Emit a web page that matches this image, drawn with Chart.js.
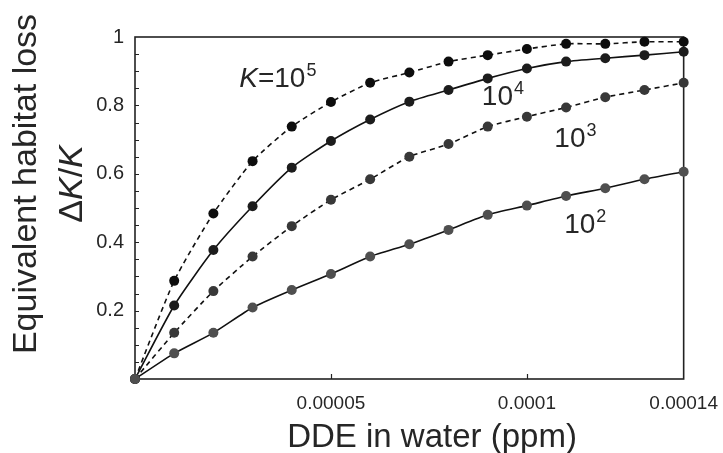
<!DOCTYPE html>
<html>
<head>
<meta charset="utf-8">
<script src="https://cdn.jsdelivr.net/npm/chart.js@4/dist/chart.umd.min.js"></script>
<style>
  html, body { margin: 0; padding: 0; background: #fff; }
  #wrap { width: 723px; height: 453px; }
</style>
</head>
<body>
<div id="wrap"><canvas id="habitatChart" width="723" height="453"></canvas></div>
<script>
// DDE concentration in water (ppm)
const ddeLevels = [0, 0.00001, 0.00002, 0.00003, 0.00004, 0.00005, 0.00006, 0.00007,
                   0.00008, 0.00009, 0.0001, 0.00011, 0.00012, 0.00013, 0.00014];

// equivalent habitat loss dK/K for each carrying capacity
const lossK1e5 = [0, 0.287, 0.484, 0.637, 0.738, 0.810, 0.866, 0.896, 0.928, 0.947, 0.965, 0.980, 0.980, 0.986, 0.986];
const lossK1e4 = [0, 0.215, 0.377, 0.505, 0.618, 0.696, 0.759, 0.811, 0.845, 0.879, 0.908, 0.928, 0.938, 0.947, 0.957];
const lossK1e3 = [0, 0.135, 0.257, 0.358, 0.447, 0.524, 0.584, 0.650, 0.687, 0.738, 0.767, 0.794, 0.824, 0.845, 0.866];
const lossK1e2 = [0, 0.075, 0.135, 0.209, 0.260, 0.307, 0.358, 0.394, 0.436, 0.480, 0.507, 0.535, 0.558, 0.584, 0.606];

const xTickValues = [0.00005, 0.0001, 0.00014];
const xTickLabels = ['0.00005', '0.0001', '0.00014'];
const yTickValues = [0.2, 0.4, 0.6, 0.8, 1];
const yTickLabels = ['0.2', '0.4', '0.6', '0.8', '1'];

// curve labels: italic prefix, base text, superscript, anchor in data units
const curveLabels = [
    { italic: 'K', base: '=10', sup: '5', x: 0.0000266, y: 0.854 },
    { italic: '',  base: '10',  sup: '4', x: 0.0000885, y: 0.801 },
    { italic: '',  base: '10',  sup: '3', x: 0.0001070, y: 0.678 },
    { italic: '',  base: '10',  sup: '2', x: 0.0001095, y: 0.427 },
];

const FONT = '"Liberation Sans", Arial, sans-serif';
const TEXT_COLOR = '#262626';

function series(values) {
    return values.map((v, i) => ({ x: ddeLevels[i], y: v }));
}

function makeDataset(label, values, pointColor, dashed) {
    return {
        label: label,
        data: series(values),
        borderColor: '#111',
        borderWidth: 1.6,
        borderDash: dashed ? [5, 4] : [],
        pointRadius: 5,
        pointHoverRadius: 5,
        pointBackgroundColor: pointColor,
        pointBorderColor: pointColor,
        pointBorderWidth: 0,
        tension: 0.2,
        clip: false,
    };
}

// frame, inward ticks, titles and curve labels
const decorPlugin = {
    id: 'decor',
    beforeDatasetsDraw(chart) {
        const { ctx, chartArea: a, scales } = chart;
        ctx.save();
        ctx.strokeStyle = '#222';
        ctx.lineWidth = 1.6;
        ctx.strokeRect(a.left, a.top, a.right - a.left, a.bottom - a.top);

        // minor ticks on the y axis every 0.05
        ctx.lineWidth = 1.2;
        ctx.beginPath();
        for (let k = 1; k < 20; k++) {
            const py = Math.round(scales.y.getPixelForValue(k * 0.05)) + 0.5;
            ctx.moveTo(a.left, py);
            ctx.lineTo(a.left + 4, py);
        }
        // x ticks pointing up
        xTickValues.slice(0, 2).forEach(v => {
            const px = Math.round(scales.x.getPixelForValue(v)) + 0.5;
            ctx.moveTo(px, a.bottom);
            ctx.lineTo(px, a.bottom - 5);
        });
        ctx.stroke();
        ctx.restore();
    },
    afterDraw(chart) {
        const { ctx, scales } = chart;
        ctx.save();
        ctx.fillStyle = TEXT_COLOR;

        // y title, two lines
        ctx.save();
        ctx.translate(27, 184);
        ctx.rotate(-Math.PI / 2);
        ctx.textAlign = 'center';
        ctx.textBaseline = 'middle';
        ctx.font = '34px ' + FONT;
        ctx.fillText('Equivalent habitat loss', 0, 0);
        ctx.restore();

        ctx.save();
        ctx.translate(73, 184);
        ctx.rotate(-Math.PI / 2);
        ctx.textBaseline = 'middle';
        const parts = [['Δ', ''], ['K', 'italic '], ['/', ''], ['K', 'italic ']];
        let total = 0;
        parts.forEach(p => { ctx.font = p[1] + '34px ' + FONT; total += ctx.measureText(p[0]).width; });
        let cx = -total / 2;
        parts.forEach(p => {
            ctx.font = p[1] + '34px ' + FONT;
            ctx.fillText(p[0], cx, 0);
            cx += ctx.measureText(p[0]).width;
        });
        ctx.restore();

        // x title
        ctx.font = '33px ' + FONT;
        ctx.textAlign = 'center';
        ctx.textBaseline = 'alphabetic';
        ctx.fillText('DDE in water (ppm)', 432, 447);

        // curve labels with superscripts
        ctx.textAlign = 'left';
        curveLabels.forEach(l => {
            let px = scales.x.getPixelForValue(l.x);
            const py = scales.y.getPixelForValue(l.y);
            if (l.italic) {
                ctx.font = 'italic 28px ' + FONT;
                ctx.fillText(l.italic, px, py);
                px += ctx.measureText(l.italic).width;
            }
            ctx.font = '28px ' + FONT;
            ctx.fillText(l.base, px, py);
            px += ctx.measureText(l.base).width + 1;
            ctx.font = '18px ' + FONT;
            ctx.fillText(l.sup, px, py - 11);
        });
        ctx.restore();
    }
};

const ctx = document.getElementById('habitatChart').getContext('2d');
const habitatChart = new Chart(ctx, {
    type: 'line',
    data: {
        datasets: [
            makeDataset('K=10^2', lossK1e2, '#4f4f4f', false),
            makeDataset('K=10^3', lossK1e3, '#383838', true),
            makeDataset('K=10^4', lossK1e4, '#1c1c1c', false),
            makeDataset('K=10^5', lossK1e5, '#0d0d0d', true),
        ],
    },
    options: {
        responsive: false,
        animation: false,
        events: [],
        layout: { padding: { left: 0, right: 36, top: 37, bottom: 0 } },
        plugins: {
            legend: { display: false },
            tooltip: { enabled: false },
        },
        scales: {
            x: {
                type: 'linear',
                min: 0,
                max: 0.00014,
                border: { display: false },
                grid: { display: false },
                afterBuildTicks: s => { s.ticks = xTickValues.map(v => ({ value: v })); },
                afterFit: s => { s.height = 74; },
                ticks: {
                    autoSkip: false,
                    maxRotation: 0,
                    padding: 5,
                    color: TEXT_COLOR,
                    font: { family: FONT, size: 19 },
                    callback: v => xTickLabels[xTickValues.indexOf(v)],
                },
            },
            y: {
                type: 'linear',
                min: 0,
                max: 1,
                border: { display: false },
                grid: { display: false },
                afterBuildTicks: s => { s.ticks = yTickValues.map(v => ({ value: v })); },
                afterFit: s => { s.width = 135; },
                ticks: {
                    autoSkip: false,
                    padding: 3,
                    color: TEXT_COLOR,
                    font: { family: FONT, size: 20 },
                    callback: v => yTickLabels[yTickValues.indexOf(v)],
                },
            },
        },
    },
    plugins: [decorPlugin],
});
</script>
</body>
</html>
